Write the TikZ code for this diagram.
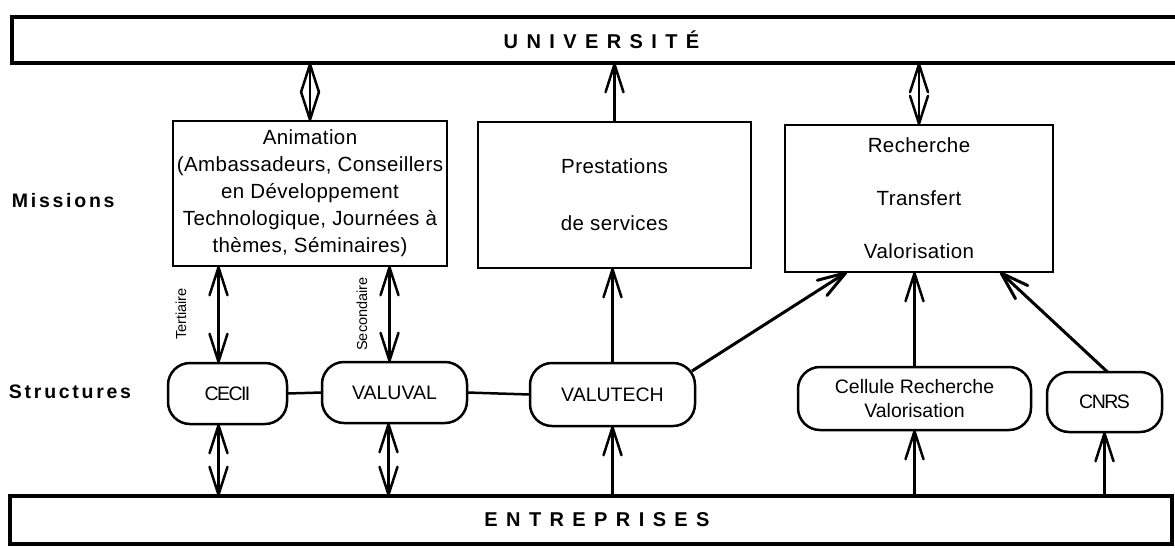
\documentclass[tikz,border=0pt]{standalone}
\usepackage{fontspec}
\setmainfont{Liberation Sans}
\newfontfamily\wideb{Liberation Sans}[LetterSpace=42]
\newfontfamily\labfont{Liberation Sans}[LetterSpace=14]
\newfontfamily\tightfont{Liberation Sans}[LetterSpace=-8]
\newfontfamily\boxfont{Liberation Sans}[LetterSpace=2]
\usetikzlibrary{arrows.meta}
\begin{document}
\begin{tikzpicture}[x=1pt,y=-1pt,
 every node/.style={inner sep=0pt, outer sep=0pt},
 bigband/.style={draw, line width=4.5pt, font=\wideb\bfseries\fontsize{20}{22}\selectfont},
 mission/.style={draw, line width=2.7pt, font=\boxfont\fontsize{20.5}{27}\selectfont, align=center},
 struct/.style={draw, line width=2.5pt, rounded corners=22pt, font=\fontsize{19.5}{24}\selectfont, align=center},
 ar/.style={line width=2.5pt, -{Straight Barb[length=28pt,width=18pt,round]}},
 dar/.style={line width=2.5pt, {Straight Barb[length=28pt,width=18pt,round]}-{Straight Barb[length=28pt,width=18pt,round]}},
 link/.style={line width=2.5pt},
 sidelab/.style={font=\labfont\bfseries\fontsize{19.5}{22}\selectfont, anchor=west},
 vlab/.style={font=\fontsize{14.5}{16}\selectfont, rotate=90}
]
\useasboundingbox (0,0) rectangle (1175,547);

% bands
\node[bigband, minimum width=1173, minimum height=46] (univ) at (598.5,40) {\kern6pt UNIVERSITÉ};
\node[bigband, minimum width=1162, minimum height=48] (entr) at (591,520) {\kern12pt ENTREPRISES};

% side labels
\node[sidelab] (missions) at (12,201) {Missions};
\node[sidelab] (structures) at (9,392) {Structures};

% missions
\node[mission, minimum width=274, minimum height=145] (anim) at (310,193.5)
  {Animation\\(Ambassadeurs, Conseillers\\en Développement\\Technologique, Journées à\\thèmes, Séminaires)};
\node[mission, minimum width=273, minimum height=146] (prest) at (614.5,195)
  {Prestations\\[30pt]de services};
\node[mission, minimum width=268, minimum height=147] (rech) at (919,198.5)
  {Recherche\\[26pt]Transfert\\[26pt]Valorisation};

% structures
\node[struct, minimum width=119, minimum height=61] (cecii) at (227.5,393.5) {\tightfont CECII};
\node[struct, minimum width=145, minimum height=61] (valuval) at (394.5,392.5) {VALUVAL};
\node[struct, minimum width=165, minimum height=63] (valutech) at (612.5,394.5) {VALUTECH};
\node[struct, minimum width=233, minimum height=63] (cellule) at (914.5,398.5) {Cellule Recherche\\Valorisation};
\node[struct, minimum width=115, minimum height=60] (cnrs) at (1104.5,402) {\tightfont CNRS};

% vertical labels
\node[vlab] (tert) at (181,314) {Tertiaire};
\node[vlab] (second) at (362,314) {Secondaire};

% connectors to Université
\draw[dar] (anim.north) -- (anim.north |- univ.south);
\draw[ar] (prest.north) -- (prest.north |- univ.south);
\draw[dar] (rech.north) -- (rech.north |- univ.south);

% missions <-> structures
\draw[dar] ([xshift=-9pt]cecii.north) -- ([xshift=-9pt]cecii.north |- anim.south);
\draw[dar] ([xshift=-5pt]valuval.north) -- ([xshift=-5pt]valuval.north |- anim.south);
\draw[ar] (valutech.north) -- (valutech.north |- prest.south);
\draw[ar, line width=3pt] ([shift={(-3,8)}]valutech.north east) -- ([xshift=-72pt]rech.south);
\draw[ar] (cellule.north) -- (cellule.north |- rech.south);
\draw[ar, line width=3pt] ([xshift=3pt]cnrs.north) -- ([xshift=81pt]rech.south);

% links between structures
\draw[link] (cecii.east) -- (valuval.west);
\draw[link] (valuval.east) -- (valutech.west);

% entreprises -> structures
\draw[dar] ([xshift=-9pt]cecii.south) -- ([xshift=-9pt]cecii.south |- entr.north);
\draw[dar] ([xshift=-6pt]valuval.south) -- ([xshift=-6pt]valuval.south |- entr.north);
\draw[ar] (valutech.south |- entr.north) -- (valutech.south);
\draw[ar] (cellule.south |- entr.north) -- (cellule.south);
\draw[ar] (cnrs.south |- entr.north) -- (cnrs.south);
\end{tikzpicture}
\end{document}
